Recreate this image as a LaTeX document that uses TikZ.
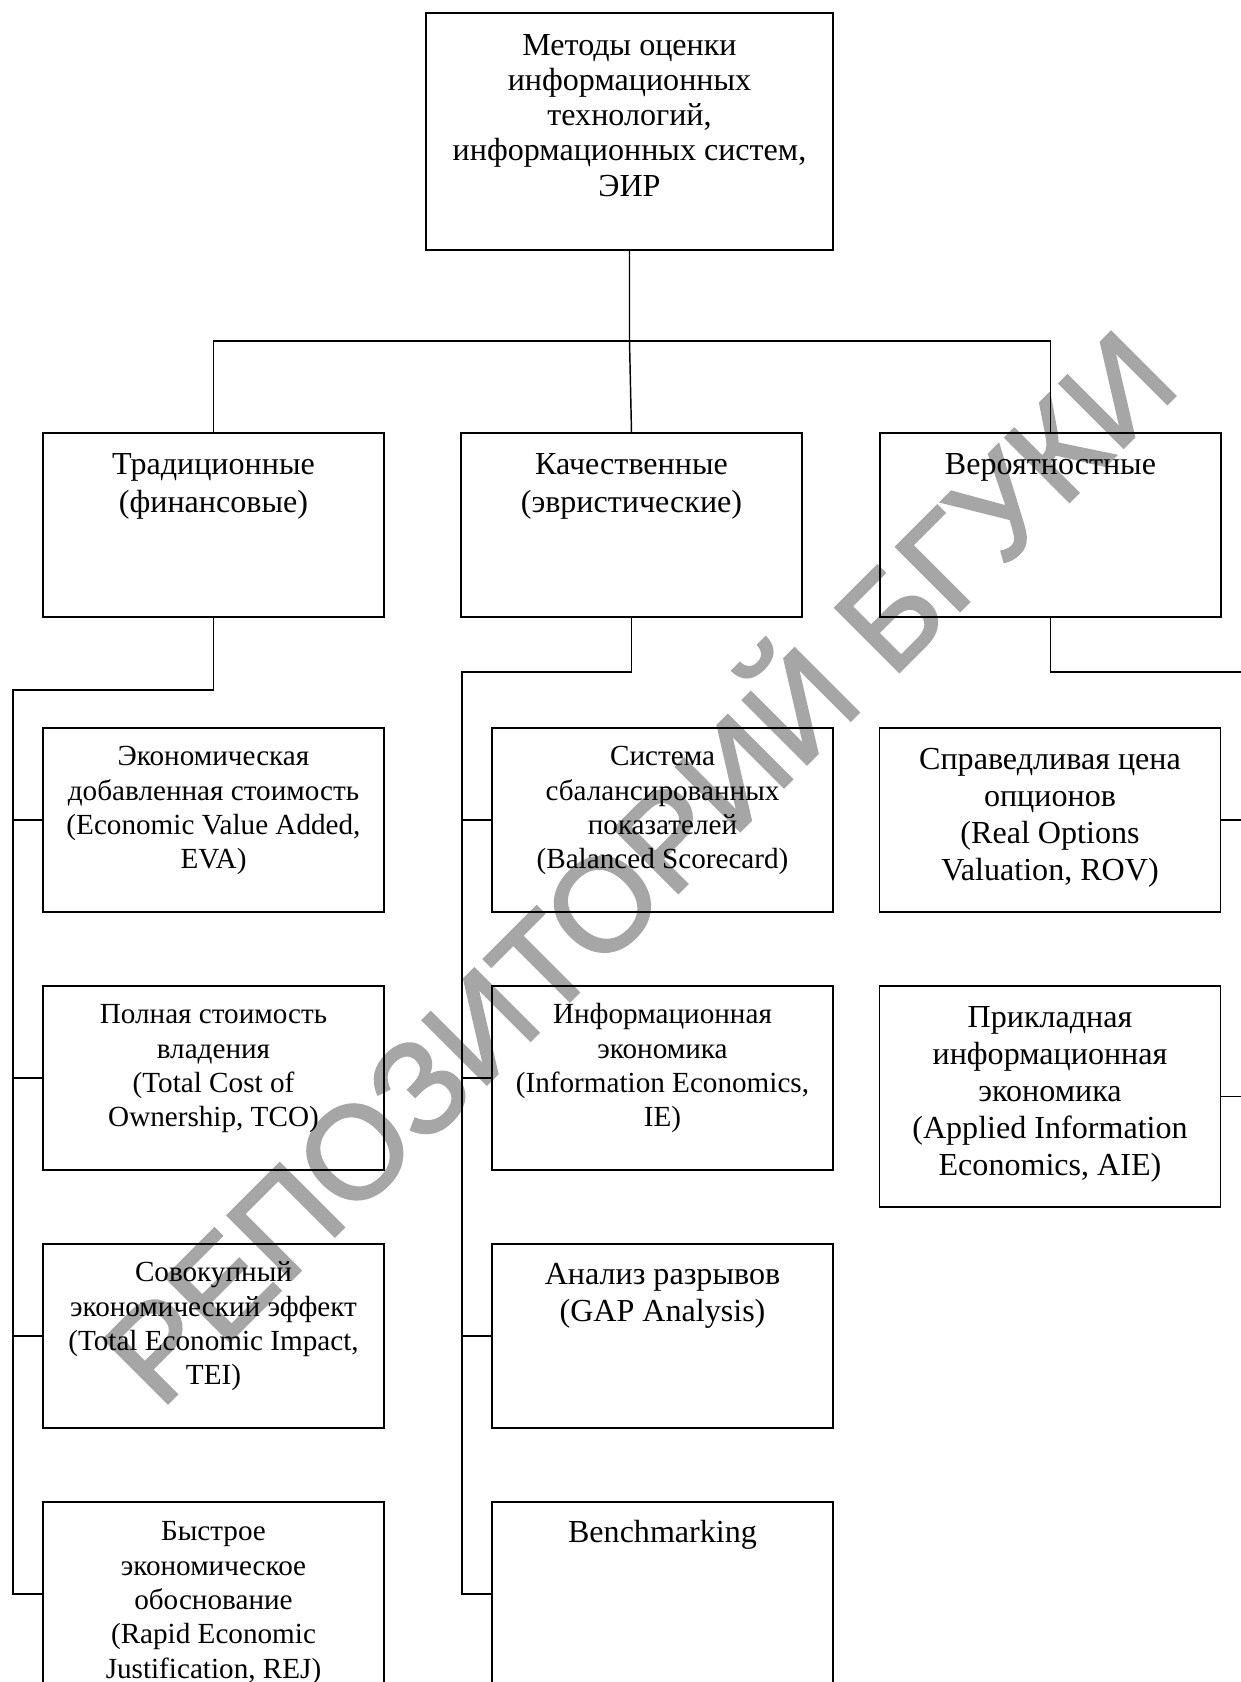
\documentclass[tikz,border=0pt]{standalone}
\usepackage{fontspec}
\setmainfont{Liberation Serif}
\newfontfamily\wmfont[FakeBold=2]{Liberation Sans}
\definecolor{wmgray}{RGB}{166,166,166}
\begin{document}
\begin{tikzpicture}[x=0.48pt,y=-0.48pt]
\tikzset{
  bx/.style={draw, line width=0.7pt, inner sep=0pt, minimum width=341*0.48pt, minimum height=184*0.48pt},
  lbl/.style={anchor=north, inner sep=0pt, align=center},
  fa/.style={font=\fontsize{14}{16.5}\selectfont},
  fb/.style={font=\fontsize{15.4}{18}\selectfont},
  fc/.style={font=\fontsize{15.4}{17.8}\selectfont},
  fd/.style={font=\fontsize{15.4}{17.5}\selectfont},
  ln/.style={line width=0.7pt},
  wm/.style={text=wmgray, rotate=45, inner sep=0pt, font=\fontsize{63}{63}\wmfont}
}
\useasboundingbox[fill=white] (0,0) rectangle (1241,1682);
% watermark
\node[wm] (wmark) at (630,858) {РЕПОЗИТОРИЙ БГУКИ};
% top
\node[bx, minimum width=407*0.48pt, minimum height=237*0.48pt] (T) at (629.5,131.5) {};
\node[lbl, font=\fontsize{15.4}{16.9}\selectfont] (Tl) at ([yshift=-18*0.48pt]T.north) {\strut Методы оценки\\информационных\\технологий,\\информационных систем,\\ЭИР};
% level 2
\node[bx] (b1) at (213.5,525) {};
\node[bx] (b2) at (631.5,525) {};
\node[bx] (b3) at (1050.5,525) {};
\node[lbl, fb] (b1l) at ([yshift=-16*0.48pt]b1.north) {\strut Традиционные\\(финансовые)};
\node[lbl, fb] (b2l) at ([yshift=-16*0.48pt]b2.north) {\strut Качественные\\(эвристические)};
\node[lbl, fb] (b3l) at ([yshift=-16*0.48pt]b3.north) {\strut Вероятностные};
% column 1
\node[bx] (c11) at (213.5,820) {};
\node[bx] (c12) at (213.5,1078) {};
\node[bx] (c13) at (213.5,1336) {};
\node[bx] (c14) at (213.5,1594) {};
\node[lbl, fa] at ([yshift=-14*0.48pt]c11.north) {\strut Экономическая\\добавленная стоимость\\(Economic Value Added,\\EVA)};
\node[lbl, fa] at ([yshift=-14*0.48pt]c12.north) {\strut Полная стоимость\\владения\\(Total Cost of\\Ownership, TCO)};
\node[lbl, fa] at ([yshift=-14*0.48pt]c13.north) {\strut Совокупный\\экономический эффект\\(Total Economic Impact,\\TEI)};
\node[lbl, fa] at ([yshift=-15*0.48pt]c14.north) {\strut Быстрое\\экономическое\\обоснование\\(Rapid Economic\\Justification, REJ)};
% column 2
\node[bx] (c21) at (662.5,820) {};
\node[bx] (c22) at (662.5,1078) {};
\node[bx] (c23) at (662.5,1336) {};
\node[bx] (c24) at (662.5,1594) {};
\node[lbl, fa] at ([yshift=-14*0.48pt]c21.north) {\strut Система\\сбалансированных\\показателей\\(Balanced Scorecard)};
\node[lbl, fa] at ([yshift=-14*0.48pt]c22.north) {\strut Информационная\\экономика\\(Information Economics,\\IE)};
\node[lbl, fd] at ([yshift=-15.5*0.48pt]c23.north) {\strut Анализ разрывов\\(GAP Analysis)};
\node[lbl, fd] at ([yshift=-15.5*0.48pt]c24.north) {\strut Benchmarking};
% column 3
\node[bx] (c31) at (1050,820) {};
\node[bx, minimum height=221*0.48pt] (c32) at (1050,1096.5) {};
\node[lbl, fc] at ([yshift=-16*0.48pt]c31.north) {\strut Справедливая цена\\опционов\\(Real Options\\Valuation, ROV)};
\node[lbl, fc] at ([yshift=-15.5*0.48pt]c32.north) {\strut Прикладная\\информационная\\экономика\\(Applied Information\\Economics, AIE)};
% connectors
\coordinate (busL) at (213.5,341);
\coordinate (busR) at (1050.5,341);
\draw[ln] (T.south) -- (T.south |- busL) -- (b2.north);
\draw[ln] (b1.north) -- (busL) -- (busR) -- (b3.north);
\coordinate (k1) at (213.5,690);
\coordinate (v1) at (13,690);
\draw[ln] (b1.south) -- (k1) -- (v1) -- (v1 |- c14.west) -- (c14.west);
\draw[ln] (v1 |- c11.west) -- (c11.west);
\draw[ln] (v1 |- c12.west) -- (c12.west);
\draw[ln] (v1 |- c13.west) -- (c13.west);
\coordinate (k2) at (631.5,672);
\coordinate (v2) at (462,672);
\draw[ln] (b2.south) -- (k2) -- (v2) -- (v2 |- c24.west) -- (c24.west);
\draw[ln] (v2 |- c21.west) -- (c21.west);
\draw[ln] (v2 |- c22.west) -- (c22.west);
\draw[ln] (v2 |- c23.west) -- (c23.west);
\coordinate (k3) at (1050.5,672);
\coordinate (e3) at (1241,672);
\draw[ln] (b3.south) -- (k3) -- (e3);
\draw[ln] (c31.east) -- (c31.east -| e3);
\draw[ln] (c32.east) -- (c32.east -| e3);
\end{tikzpicture}
\end{document}
